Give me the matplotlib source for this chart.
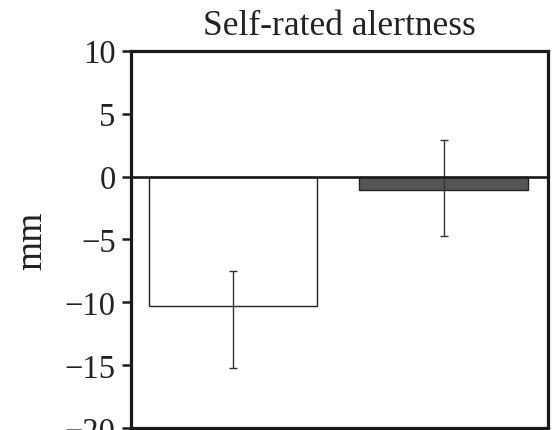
import matplotlib
matplotlib.use("Agg")
import matplotlib.pyplot as plt

plt.rcParams['font.family'] = ['Liberation Serif', 'DejaVu Serif']

# values (mm)
groups = ["A", "B"]
means = [-10.25, -1.1]
err_top = [-7.5, 2.9]
err_bottom = [-15.2, -4.7]
bar_colors = ["white", "#555555"]

yerr = [[m - lo for m, lo in zip(means, err_bottom)],
        [hi - m for m, hi in zip(means, err_top)]]

fig = plt.figure(figsize=(5.55, 4.31), dpi=100)
ax = fig.add_axes([0.236, 0.004, 0.751, 0.876])

x = list(range(len(groups)))
ax.bar(x, means, width=0.8, color=bar_colors, edgecolor="#222222", linewidth=1.0, zorder=2)
ax.errorbar(x, means, yerr=yerr, fmt="none", ecolor="#333333", elinewidth=1.0,
            capsize=2.9, capthick=1.0, zorder=3)

ax.axhline(0, color="#1a1a1a", linewidth=1.9, zorder=4)

ax.set_xlim(-0.485, 1.495)
ax.set_ylim(-20, 10)
ax.set_yticks([10, 5, 0, -5, -10, -15, -20])
ax.set_xticks([])

for s in ax.spines.values():
    s.set_linewidth(2.3)
    s.set_color("#1a1a1a")

ax.tick_params(axis="y", direction="out", length=6.8, width=1.8, pad=4.2,
               labelsize=23.5, colors="#1a1a1a", labelcolor="#222222")

ax.set_title("Self-rated alertness", fontsize=25.5, color="#222222", pad=12)
ax.set_ylabel("mm", fontsize=27, color="#222222")
ax.yaxis.set_label_coords(-0.195, 0.5)

fig.savefig("out.png", dpi=100)
